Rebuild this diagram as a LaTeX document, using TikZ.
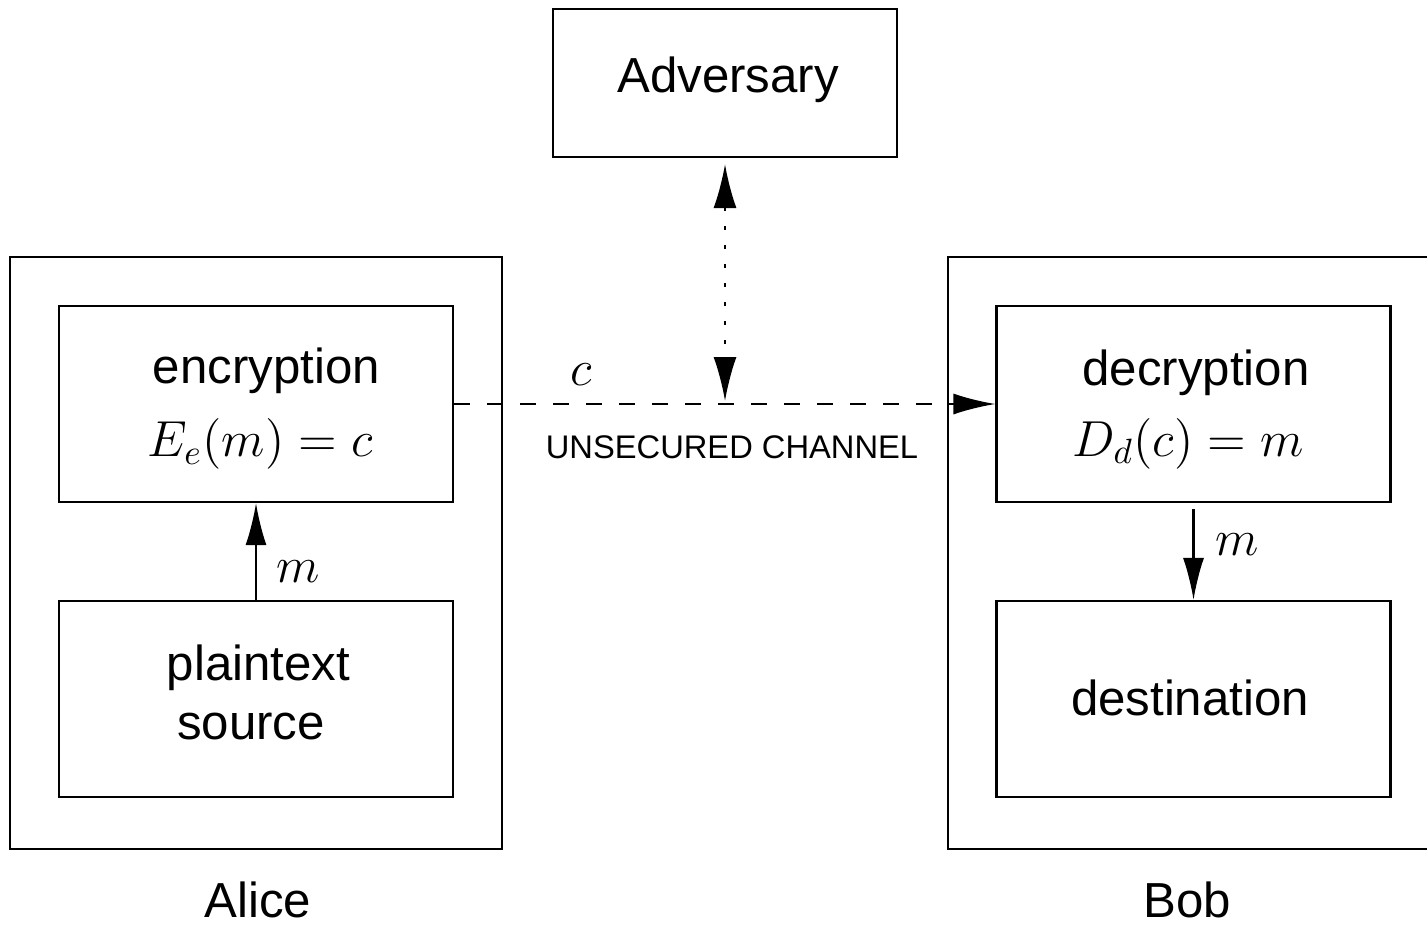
\documentclass[tikz,border=0pt]{standalone}
\usepackage{fontspec}
\setmainfont{Liberation Sans}
\usetikzlibrary{arrows.meta}
\tikzset{
  box/.style={draw, line width=0.6pt, minimum width=3.94cm, minimum height=1.96cm, inner sep=0pt},
  party/.style={draw, line width=0.6pt, minimum width=4.92cm, minimum height=5.92cm},
  txt/.style={font=\fontsize{14pt}{17pt}\selectfont, inner sep=0pt, anchor=base},
  small/.style={font=\fontsize{9.3pt}{11pt}\selectfont, inner sep=0pt, anchor=base},
  tip/.style={-{Latex[length=0.42cm,width=0.21cm]}},
  channel/.style={line width=0.6pt, dash pattern=on 0.16cm off 0.17cm},
  spy/.style={line width=0.6pt, dash pattern=on 0.04cm off 0.15cm,
              {Latex[length=0.44cm,width=0.23cm]}-{Latex[length=0.44cm,width=0.23cm]}},
  msg/.style={line width=0.6pt, tip}
}
\begin{document}
\begin{tikzpicture}
\useasboundingbox (0,0) rectangle (14.27,-9.29);
\clip (0,0) rectangle (14.27,-9.29);

% the eavesdropper
\node[box, minimum width=3.44cm, minimum height=1.48cm] (adv) at (7.25,-0.83) {};
\node[txt] (advT) at (7.28,-0.92) {Adversary};

% Alice's side
\node[party] (alice) at (2.56,-5.53) {};
\node[box] (enc) at (2.56,-4.04) {};
\node[txt] (encT) at (2.665,-3.83) {encryption};
\node[txt] (encF) at (2.60,-4.565) {$E_e(m) = c$};
\node[box] (src) at (2.56,-6.99) {};
\node[txt] (srcT1) at (2.585,-6.80) {plaintext};
\node[txt] (srcT2) at (2.51,-7.39) {source};

% Bob's side (runs past the right margin)
\node[party] (bob) at (11.94,-5.53) {};
\node[box] (dec) at (11.935,-4.04) {};
\node[txt] (decT) at (11.96,-3.85) {decryption};
\node[txt] (decF) at (11.88,-4.56) {$D_d(c) = m$};
\node[box] (dst) at (11.935,-6.99) {};
\node[txt] (dstT) at (11.90,-7.15) {destination};

% messages inside each party
\draw[msg] (src.north) -- (enc.south);
\node[txt] (mA) at (2.985,-5.82) {$m$};
\draw[msg, shorten <=0.06cm] (dec.south) -- (dst.north);
\node[txt] (mB) at (12.375,-5.55) {$m$};

% the open channel
\draw[channel, tip] (enc.east) -- (dec.west);
\node[txt] (cLbl) at (5.81,-3.85) {$c$};
\node[small] (chan) at (7.32,-4.58) {UNSECURED CHANNEL};

% eavesdropping link
\coordinate (tap) at (adv.south |- enc.east);
\draw[spy, shorten <=0.06cm, shorten >=0.03cm] (adv.south) -- (tap);

% party names
\node[txt] (aliceName) at (2.58,-9.17) {Alice};
\node[txt] (bobName) at (11.87,-9.17) {Bob};
\end{tikzpicture}
\end{document}
